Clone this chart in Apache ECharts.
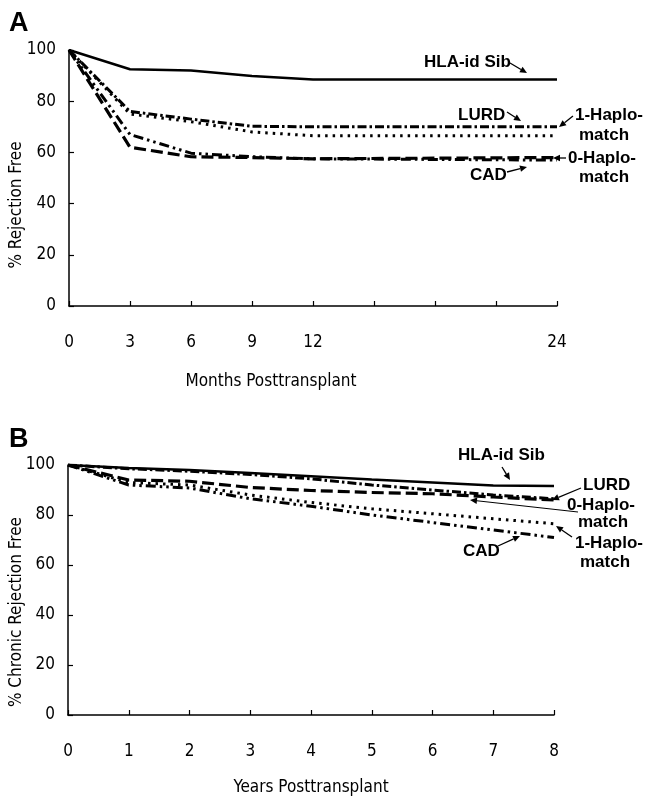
<!DOCTYPE html>
<html><head><meta charset="utf-8">
<script src="https://cdn.jsdelivr.net/npm/echarts@6/dist/echarts.min.js"></script>
<style>html,body{margin:0;padding:0;background:#fff}#c{width:649px;height:801px}</style>
</head><body><div id="c"></div>
<script>
// ---- Panel A data (months) ----
const monthsA = [0, 3, 6, 9, 12, 24];
const hlaA    = [100, 92.5, 92, 89.8, 88.5, 88.5];
const lurdA   = [100, 76, 73, 70.2, 70, 70];
const haplo1A = [100, 75, 72, 68, 66.5, 66.5];
const haplo0A = [100, 62, 58.3, 58, 57.5, 58];
const cadA    = [100, 67, 59.7, 58.3, 57.5, 57];
const xTicksA = [0, 3, 6, 9, 12, 24];

// ---- Panel B data (years) ----
const yearsB  = [0, 1, 2, 3, 4, 5, 6, 7, 8];
const hlaB    = [100, 98.8, 98, 96.8, 95.5, 94.2, 93, 91.8, 91.6];
const lurdB   = [100, 98.5, 97.5, 96.2, 94.5, 92, 90, 88, 86.5];
const haplo0B = [100, 94, 93.5, 91, 89.8, 89, 88.5, 87.2, 86];
const haplo1B = [100, 93, 92, 88, 85, 82.5, 80.5, 78.5, 76.5];
const cadB    = [100, 92, 90.8, 86.5, 83.5, 80, 77, 74, 71];
const yTicks  = [0, 20, 40, 60, 80, 100];

const narrow = "'Liberation Sans Narrow','DejaVu Sans Condensed','Arial Narrow',sans-serif";
const boldF = "'Liberation Sans',Arial,Helvetica,sans-serif";

const zip = (xs, ys) => xs.map((x, i) => [x, ys[i]]);

const styles = {
  hla:   {type: 'solid', width: 2.5},
  lurd:  {type: [9, 3, 2.5, 3], width: 3},
  h1:    {type: [2.5, 5], width: 3},
  h0:    {type: [12, 5], width: 3.2},
  cad:   {type: [10, 4, 2.5, 4, 2.5, 4], width: 3}
};

function ser(name, idx, xs, ys, st) {
  return {
    name, type: 'line', xAxisIndex: idx, yAxisIndex: idx,
    data: zip(xs, ys), showSymbol: false, symbol: 'none',
    lineStyle: Object.assign({color: '#000', cap: 'butt'}, st),
    silent: true, animation: false
  };
}

function xAxisCfg(idx, max, interval, showList) {
  return {
    type: 'value', gridIndex: idx, min: 0, max, interval,
    axisLine: {show: true, onZero: false, lineStyle: {color: '#000', width: 1.5}},
    axisTick: {show: true, inside: true, length: 5, lineStyle: {color: '#000', width: 1.2}},
    splitLine: {show: false},
    axisLabel: {
      margin: 28, color: '#000', fontFamily: narrow, fontSize: 17,
      formatter: v => (showList ? (showList.indexOf(v) >= 0 ? String(v) : '') : String(v))
    }
  };
}
function yAxisCfg(idx) {
  return {
    type: 'value', gridIndex: idx, min: 0, max: 100, interval: 20,
    axisLine: {show: true, lineStyle: {color: '#000', width: 1.5}},
    axisTick: {show: true, inside: true, length: 5, lineStyle: {color: '#000', width: 1.2}},
    splitLine: {show: false},
    axisLabel: {margin: 13, color: '#000', fontFamily: narrow, fontSize: 17,
      formatter: v => (yTicks.indexOf(v) >= 0 ? String(v) : '')}
  };
}

function txt(text, x, y, opts) {
  return {
    type: 'text', silent: true,
    x: x, y: y, rotation: (opts && opts.rot) || 0,
    style: Object.assign({
      text, fill: '#000', font: 'bold 17px ' + boldF,
      textAlign: 'left', textVerticalAlign: 'middle', align: 'left', verticalAlign: 'middle'
    }, (opts && opts.style) || {})
  };
}
function arrow(x1, y1, x2, y2, w) {
  const ang = Math.atan2(y2 - y1, x2 - x1);
  const L = 7, W = 3.2;
  const bx = x2 - L * Math.cos(ang), by = y2 - L * Math.sin(ang);
  const px = -Math.sin(ang) * W, py = Math.cos(ang) * W;
  return [
    {type: 'line', silent: true, shape: {x1, y1, x2: bx, y2: by}, style: {stroke: '#000', lineWidth: w || 1.3}},
    {type: 'polygon', silent: true, shape: {points: [[x2, y2], [bx + px, by + py], [bx - px, by - py]]}, style: {fill: '#000'}}
  ];
}

const graphics = [].concat(
  [txt('A', 9, 24, {style: {font: 'bold 27px ' + boldF}}),
   txt('B', 9, 440, {style: {font: 'bold 27px ' + boldF}}),
   txt('% Rejection Free', 17, 205, {rot: Math.PI / 2, style: {font: '17px ' + narrow, textAlign: 'center', align: 'center'}}),
   txt('Months Posttransplant', 271, 382, {style: {font: '17px ' + narrow, textAlign: 'center', align: 'center'}}),
   txt('% Chronic Rejection Free', 17, 612, {rot: Math.PI / 2, style: {font: '17px ' + narrow, textAlign: 'center', align: 'center'}}),
   txt('Years Posttransplant', 311, 788, {style: {font: '17px ' + narrow, textAlign: 'center', align: 'center'}}),
   // panel A annotations
   txt('HLA-id Sib', 424, 62),
   txt('LURD', 458, 115),
   txt('1-Haplo-', 575, 115),
   txt('match', 579, 135),
   txt('0-Haplo-', 568, 158),
   txt('match', 579, 177),
   txt('CAD', 470, 175),
   // panel B annotations
   txt('HLA-id Sib', 458, 455),
   txt('LURD', 583, 485),
   txt('0-Haplo-', 567, 505),
   txt('match', 578, 522),
   txt('1-Haplo-', 575, 543),
   txt('match', 580, 562),
   txt('CAD', 463, 551)
  ],
  arrow(510, 63, 527, 73),
  arrow(507, 112, 521, 121),
  arrow(573, 116, 559, 127),
  arrow(566, 158, 553, 158),
  arrow(507, 172, 527, 167),
  arrow(502, 467, 510, 480),
  arrow(581, 488, 552, 500),
  arrow(578, 512, 470, 500, 1),
  arrow(572, 537, 556, 526),
  arrow(498, 546, 520, 536)
);

const chart = echarts.init(document.getElementById('c'), null, {renderer: 'canvas'});
chart.setOption({
  backgroundColor: '#fff',
  animation: false,
  grid: [
    {left: 69, top: 50, width: 488, height: 256},
    {left: 68, top: 465, width: 486, height: 250}
  ],
  xAxis: [xAxisCfg(0, 24, 3, xTicksA), xAxisCfg(1, 8, 1, null)],
  yAxis: [yAxisCfg(0), yAxisCfg(1)],
  series: [
    ser('HLA-id Sib', 0, monthsA, hlaA, styles.hla),
    ser('LURD', 0, monthsA, lurdA, styles.lurd),
    ser('1-Haplomatch', 0, monthsA, haplo1A, styles.h1),
    ser('0-Haplomatch', 0, monthsA, haplo0A, styles.h0),
    ser('CAD', 0, monthsA, cadA, styles.cad),
    ser('HLA-id Sib', 1, yearsB, hlaB, styles.hla),
    ser('LURD', 1, yearsB, lurdB, styles.lurd),
    ser('0-Haplomatch', 1, yearsB, haplo0B, styles.h0),
    ser('1-Haplomatch', 1, yearsB, haplo1B, styles.h1),
    ser('CAD', 1, yearsB, cadB, styles.cad)
  ],
  graphic: graphics
});
</script>
</body></html>
